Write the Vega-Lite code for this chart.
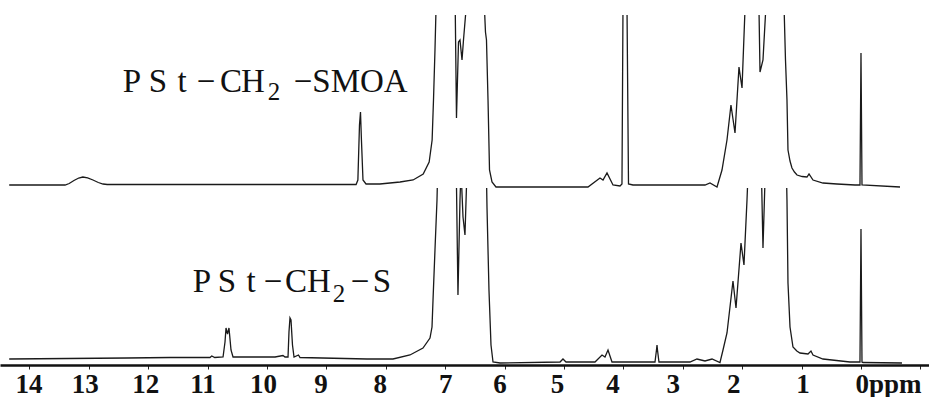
{
  "$schema": "https://vega.github.io/schema/vega-lite/v6.json",
  "background": "white",
  "padding": {"left": 0, "top": 15, "right": 0, "bottom": 0},
  "spacing": 0,
  "config": {"view": {"stroke": null}},
  "datasets": {
    "top": [
      {"ppm": 14.34, "v": 3}, {"ppm": 13.40, "v": 3}, {"ppm": 13.33, "v": 4.5}, {"ppm": 13.25, "v": 7.5},
      {"ppm": 13.17, "v": 10}, {"ppm": 13.10, "v": 11}, {"ppm": 13.02, "v": 10.2}, {"ppm": 12.93, "v": 8},
      {"ppm": 12.84, "v": 5.5}, {"ppm": 12.76, "v": 4}, {"ppm": 12.69, "v": 3.5}, {"ppm": 11.85, "v": 3.5},
      {"ppm": 9.44, "v": 3.5},
      {"ppm": 8.50, "v": 3.5}, {"ppm": 8.47, "v": 8}, {"ppm": 8.443, "v": 63}, {"ppm": 8.426, "v": 76},
      {"ppm": 8.41, "v": 48}, {"ppm": 8.384, "v": 8}, {"ppm": 8.333, "v": 4}, {"ppm": 8.10, "v": 4},
      {"ppm": 7.76, "v": 6}, {"ppm": 7.54, "v": 8}, {"ppm": 7.37, "v": 14}, {"ppm": 7.27, "v": 26},
      {"ppm": 7.22, "v": 48}, {"ppm": 7.197, "v": 88}, {"ppm": 7.172, "v": 138}, {"ppm": 7.155, "v": 178},
      {"ppm": 7.0, "v": 200}, {"ppm": 6.835, "v": 200}, {"ppm": 6.810, "v": 70}, {"ppm": 6.776, "v": 146},
      {"ppm": 6.751, "v": 148}, {"ppm": 6.717, "v": 128}, {"ppm": 6.692, "v": 148}, {"ppm": 6.650, "v": 178},
      {"ppm": 6.498, "v": 200}, {"ppm": 6.338, "v": 178}, {"ppm": 6.322, "v": 156}, {"ppm": 6.305, "v": 148},
      {"ppm": 6.279, "v": 88}, {"ppm": 6.254, "v": 18}, {"ppm": 6.212, "v": 6}, {"ppm": 6.145, "v": 1},
      {"ppm": 4.596, "v": 1}, {"ppm": 4.394, "v": 10}, {"ppm": 4.343, "v": 8}, {"ppm": 4.276, "v": 15},
      {"ppm": 4.175, "v": 3}, {"ppm": 4.057, "v": 2}, {"ppm": 4.024, "v": 4}, {"ppm": 4.007, "v": 178},
      {"ppm": 3.973, "v": 176}, {"ppm": 3.939, "v": 178}, {"ppm": 3.914, "v": 4}, {"ppm": 3.838, "v": 3},
      {"ppm": 3.552, "v": 3}, {"ppm": 2.626, "v": 3}, {"ppm": 2.542, "v": 5}, {"ppm": 2.424, "v": 1},
      {"ppm": 2.340, "v": 18}, {"ppm": 2.256, "v": 48}, {"ppm": 2.189, "v": 83}, {"ppm": 2.121, "v": 55},
      {"ppm": 2.054, "v": 121}, {"ppm": 2.003, "v": 100}, {"ppm": 1.953, "v": 178}, {"ppm": 1.80, "v": 200},
      {"ppm": 1.717, "v": 178}, {"ppm": 1.700, "v": 116}, {"ppm": 1.650, "v": 128}, {"ppm": 1.599, "v": 183},
      {"ppm": 1.45, "v": 200}, {"ppm": 1.296, "v": 183}, {"ppm": 1.271, "v": 128}, {"ppm": 1.246, "v": 88},
      {"ppm": 1.229, "v": 38}, {"ppm": 1.195, "v": 27}, {"ppm": 1.162, "v": 20}, {"ppm": 1.12, "v": 16},
      {"ppm": 1.077, "v": 13}, {"ppm": 0.99, "v": 11.5}, {"ppm": 0.909, "v": 11},
      {"ppm": 0.875, "v": 14}, {"ppm": 0.808, "v": 8}, {"ppm": 0.640, "v": 5}, {"ppm": 0.404, "v": 4},
      {"ppm": 0.101, "v": 3}, {"ppm": 0.017, "v": 3}, {"ppm": 0.0, "v": 135}, {"ppm": -0.017, "v": 3},
      {"ppm": -0.657, "v": 1}
    ],
    "bottom": [
      {"ppm": 14.34, "v": 6}, {"ppm": 12.36, "v": 7}, {"ppm": 11.63, "v": 7.5}, {"ppm": 10.96, "v": 7.5},
      {"ppm": 10.93, "v": 9}, {"ppm": 10.88, "v": 7.5}, {"ppm": 10.74, "v": 8}, {"ppm": 10.707, "v": 23},
      {"ppm": 10.69, "v": 37}, {"ppm": 10.665, "v": 31}, {"ppm": 10.64, "v": 37}, {"ppm": 10.606, "v": 15},
      {"ppm": 10.572, "v": 8}, {"ppm": 9.865, "v": 8}, {"ppm": 9.731, "v": 9.5}, {"ppm": 9.697, "v": 8},
      {"ppm": 9.646, "v": 8}, {"ppm": 9.630, "v": 33}, {"ppm": 9.613, "v": 47}, {"ppm": 9.596, "v": 45},
      {"ppm": 9.571, "v": 20}, {"ppm": 9.545, "v": 8}, {"ppm": 9.47, "v": 10}, {"ppm": 9.444, "v": 7.5},
      {"ppm": 8.316, "v": 6}, {"ppm": 7.879, "v": 6}, {"ppm": 7.593, "v": 10}, {"ppm": 7.374, "v": 17},
      {"ppm": 7.256, "v": 27}, {"ppm": 7.222, "v": 38}, {"ppm": 7.205, "v": 65}, {"ppm": 7.172, "v": 115},
      {"ppm": 7.138, "v": 165}, {"ppm": 7.13, "v": 185}, {"ppm": 7.003, "v": 215}, {"ppm": 6.818, "v": 215},
      {"ppm": 6.785, "v": 70}, {"ppm": 6.751, "v": 165}, {"ppm": 6.734, "v": 195}, {"ppm": 6.700, "v": 148},
      {"ppm": 6.667, "v": 130}, {"ppm": 6.633, "v": 195}, {"ppm": 6.498, "v": 215}, {"ppm": 6.313, "v": 215},
      {"ppm": 6.296, "v": 157}, {"ppm": 6.263, "v": 75}, {"ppm": 6.229, "v": 20}, {"ppm": 6.195, "v": 3},
      {"ppm": 6.077, "v": 2}, {"ppm": 5.067, "v": 3}, {"ppm": 5.017, "v": 6}, {"ppm": 4.966, "v": 3},
      {"ppm": 4.478, "v": 3}, {"ppm": 4.360, "v": 10}, {"ppm": 4.310, "v": 8}, {"ppm": 4.259, "v": 15},
      {"ppm": 4.192, "v": 3}, {"ppm": 3.468, "v": 3}, {"ppm": 3.443, "v": 15}, {"ppm": 3.434, "v": 20},
      {"ppm": 3.426, "v": 15}, {"ppm": 3.401, "v": 3}, {"ppm": 2.879, "v": 3}, {"ppm": 2.761, "v": 6},
      {"ppm": 2.626, "v": 4}, {"ppm": 2.508, "v": 6}, {"ppm": 2.374, "v": 2.5}, {"ppm": 2.323, "v": 15},
      {"ppm": 2.256, "v": 32}, {"ppm": 2.155, "v": 84}, {"ppm": 2.104, "v": 57}, {"ppm": 2.020, "v": 122},
      {"ppm": 1.970, "v": 100}, {"ppm": 1.919, "v": 165}, {"ppm": 1.886, "v": 215}, {"ppm": 1.684, "v": 215},
      {"ppm": 1.650, "v": 117}, {"ppm": 1.616, "v": 185}, {"ppm": 1.599, "v": 215}, {"ppm": 1.263, "v": 215},
      {"ppm": 1.246, "v": 165}, {"ppm": 1.229, "v": 82}, {"ppm": 1.195, "v": 38}, {"ppm": 1.145, "v": 18},
      {"ppm": 1.08, "v": 14}, {"ppm": 1.027, "v": 12}, {"ppm": 0.892, "v": 11}, {"ppm": 0.842, "v": 14}, {"ppm": 0.808, "v": 10},
      {"ppm": 0.640, "v": 6}, {"ppm": 0.185, "v": 3}, {"ppm": 0.017, "v": 3}, {"ppm": 0.0, "v": 136},
      {"ppm": -0.017, "v": 3}, {"ppm": -0.034, "v": 2.5}, {"ppm": -0.690, "v": 2}
    ],
    "topLabel": [
      {"ppm": 12.273, "v": 96, "text": "P"},
      {"ppm": 11.835, "v": 96, "text": "S"},
      {"ppm": 11.431, "v": 96, "text": "t"},
      {"ppm": 11.027, "v": 96, "text": "−"},
      {"ppm": 10.606, "v": 96, "text": "C"},
      {"ppm": 10.236, "v": 96, "text": "H"},
      {"ppm": 9.394, "v": 96, "text": "−"},
      {"ppm": 8.434, "v": 96, "text": "SMOA"}
    ],
    "topSub": [{"ppm": 9.882, "v": 88, "text": "2"}],
    "bottomLabel": [
      {"ppm": 11.094, "v": 73, "text": "P"},
      {"ppm": 10.673, "v": 73, "text": "S"},
      {"ppm": 10.269, "v": 73, "text": "t"},
      {"ppm": 9.899, "v": 73, "text": "−"},
      {"ppm": 9.512, "v": 73, "text": "C"},
      {"ppm": 9.125, "v": 73, "text": "H"},
      {"ppm": 8.434, "v": 73, "text": "−"},
      {"ppm": 8.064, "v": 73, "text": "S"}
    ],
    "bottomSub": [{"ppm": 8.788, "v": 63, "text": "2"}]
  },
  "vconcat": [
    {
      "width": 929,
      "height": 173,
      "layer": [
        {
          "data": {"name": "top"},
          "mark": {"type": "line", "clip": true, "color": "#1a1a1a", "strokeWidth": 1.3, "interpolate": "linear"},
          "encoding": {
            "x": {"field": "ppm", "type": "quantitative", "sort": null, "scale": {"domain": [-1.145, 14.495], "reverse": true, "nice": false, "zero": false}, "axis": null},
            "y": {"field": "v", "type": "quantitative", "scale": {"domain": [0, 173], "nice": false, "zero": false}, "axis": null},
            "order": {"value": 0}
          }
        },
        {
          "data": {"name": "topLabel"},
          "mark": {"type": "text", "font": "Liberation Serif", "fontSize": 33, "align": "center", "baseline": "alphabetic", "color": "#111"},
          "encoding": {
            "x": {"field": "ppm", "type": "quantitative"},
            "y": {"field": "v", "type": "quantitative"},
            "text": {"field": "text"}
          }
        },
        {
          "data": {"name": "topSub"},
          "mark": {"type": "text", "font": "Liberation Serif", "fontSize": 25, "align": "center", "baseline": "alphabetic", "color": "#111"},
          "encoding": {
            "x": {"field": "ppm", "type": "quantitative"},
            "y": {"field": "v", "type": "quantitative"},
            "text": {"field": "text"}
          }
        }
      ]
    },
    {
      "width": 929,
      "height": 177,
      "layer": [
        {
          "data": {"name": "bottom"},
          "mark": {"type": "line", "clip": true, "color": "#1a1a1a", "strokeWidth": 1.3, "interpolate": "linear"},
          "encoding": {
            "x": {
              "field": "ppm", "type": "quantitative", "sort": null,
              "scale": {"domain": [-1.145, 14.495], "reverse": true, "nice": false, "zero": false},
              "axis": {
                "title": null,
                "grid": false,
                "values": [-1, -0.75, -0.5, -0.25, 0, 0.25, 0.5, 0.75, 1, 1.25, 1.5, 1.75, 2, 2.25, 2.5, 2.75, 3, 3.25, 3.5, 3.75, 4, 4.25, 4.5, 4.75, 5, 5.25, 5.5, 5.75, 6, 6.25, 6.5, 6.75, 7, 7.25, 7.5, 7.75, 8, 8.25, 8.5, 8.75, 9, 9.25, 9.5, 9.75, 10, 10.25, 10.5, 10.75, 11, 11.25, 11.5, 11.75, 12, 12.25, 12.5, 12.75, 13, 13.25, 13.5, 13.75, 14, 14.25],
                "labelExpr": "datum.value == 0 ? '0ppm' : (datum.value > 0 && datum.value % 1 == 0 ? format(datum.value, 'd') : '')",
                "labelOffset": {"expr": "datum.value==14?-1:datum.value==13?-4:datum.value==12?-3:datum.value==11?-5:datum.value==10?-4:datum.value==9?-6:datum.value==8?-6:datum.value==6?-5:datum.value==5?-7:datum.value==4?-11:datum.value==3?-10:datum.value==2?-9:datum.value==1?1:datum.value==0?27:0"},
                "labelOverlap": false,
                "labelFlush": false,
                "labelBound": false,
                "labelFont": "Liberation Serif",
                "labelFontWeight": "bold",
                "labelFontSize": 27,
                "labelColor": "#111",
                "labelPadding": 2,
                "tickSize": 4,
                "tickColor": "#222",
                "tickWidth": 1,
                "domainColor": "#111",
                "domainWidth": 2.5
              }
            },
            "y": {"field": "v", "type": "quantitative", "scale": {"domain": [0, 177], "nice": false, "zero": false}, "axis": null}
          }
        },
        {
          "data": {"name": "bottomLabel"},
          "mark": {"type": "text", "font": "Liberation Serif", "fontSize": 33, "align": "center", "baseline": "alphabetic", "color": "#111"},
          "encoding": {
            "x": {"field": "ppm", "type": "quantitative"},
            "y": {"field": "v", "type": "quantitative"},
            "text": {"field": "text"}
          }
        },
        {
          "data": {"name": "bottomSub"},
          "mark": {"type": "text", "font": "Liberation Serif", "fontSize": 25, "align": "center", "baseline": "alphabetic", "color": "#111"},
          "encoding": {
            "x": {"field": "ppm", "type": "quantitative"},
            "y": {"field": "v", "type": "quantitative"},
            "text": {"field": "text"}
          }
        }
      ]
    }
  ]
}
